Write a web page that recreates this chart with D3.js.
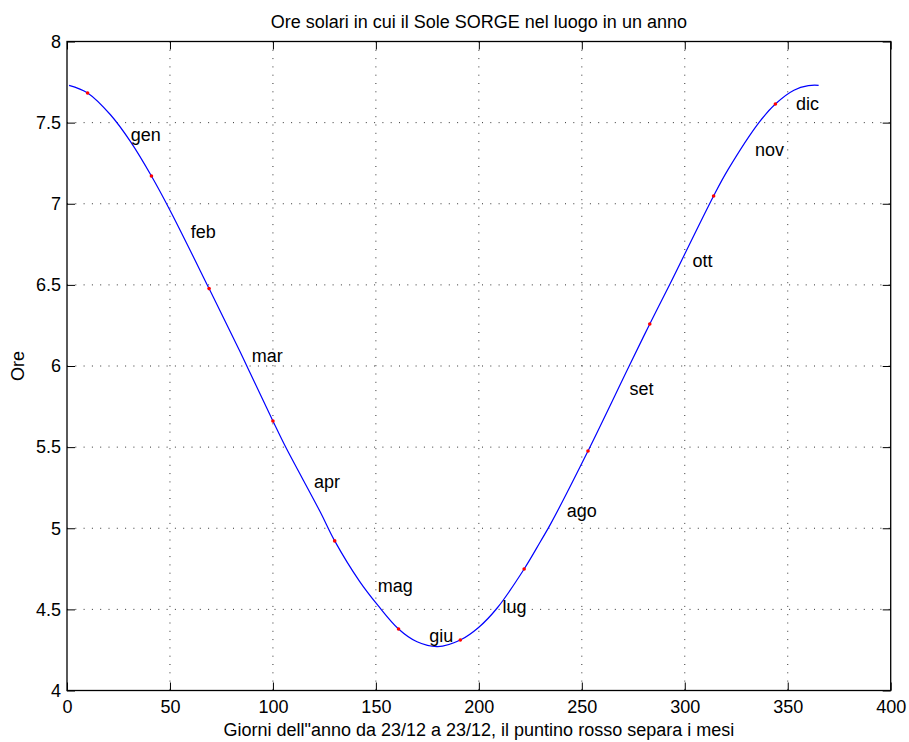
<!DOCTYPE html>
<head>
<meta charset="utf-8">
<script src="https://d3js.org/d3.v7.min.js"></script>

<style>
body {
	margin: 0;
	background: #fff;
}
svg text {
	font-family: "Liberation Sans", Arial, Helvetica, sans-serif;
	font-size: 18px;
	fill: #000;
}
.grid line {
	stroke: #333;
	stroke-width: 1;
	stroke-dasharray: 1,7.3;
}
.axis path {
	display: none;
}
.axis line {
	stroke: #000;
}
.curve {
	fill: none;
	stroke: #0000ff;
	stroke-width: 1.2px;
}
</style>
</head>

<body>
<svg id="chart" width="909" height="742"></svg>

<script>

// curve: day of the year (from 23/12) and solar hour of sunrise
var days  = [1, 10, 21, 31, 41, 50, 69, 84, 89, 100, 106, 123, 130, 142, 151, 161, 170, 180,
	191, 200, 209, 222, 230, 235, 253, 273, 283, 293, 314, 321, 336, 344, 353, 360, 365];
var hours = [7.73, 7.683, 7.55, 7.38, 7.171, 6.96, 6.477, 6.09, 5.955, 5.661, 5.505, 5.10, 4.922, 4.674, 4.524, 4.379, 4.30, 4.27,
	4.311, 4.39, 4.51, 4.749, 4.92, 5.03, 5.476, 6.00, 6.259, 6.51, 7.048, 7.21, 7.50, 7.615, 7.70, 7.728, 7.73];

// red dots: first day of each month
var dotDays  = [10, 41, 69, 100, 130, 161, 191, 222, 253, 283, 314, 344];
var dotHours = [7.683, 7.171, 6.477, 5.661, 4.922, 4.379, 4.311, 4.749, 5.476, 6.259, 7.048, 7.615];

// month names and where they sit
var months      = ["gen", "feb", "mar", "apr", "mag", "giu", "lug", "ago", "set", "ott", "nov", "dic"];
var labelDays   = [30.9, 60.1, 89.7, 119.9, 150.9, 175.9, 211.5, 242.7, 273.1, 303.7, 334.1, 354.0];
var labelHours  = [7.387, 6.787, 6.027, 5.246, 4.605, 4.301, 4.480, 5.071, 5.821, 6.612, 7.294, 7.578];

var xTicks = [0, 50, 100, 150, 200, 250, 300, 350, 400];
var yTicks = [4, 4.5, 5, 5.5, 6, 6.5, 7, 7.5, 8];

var svg = d3.select("#chart"),
	margin = {top: 41.5, right: 18.3, bottom: 51.5, left: 67},
	width = +svg.attr("width") - margin.left - margin.right,
	height = +svg.attr("height") - margin.top - margin.bottom;

var x = d3.scaleLinear()
	.domain([0, 400])
	.range([margin.left, margin.left + width]);

var y = d3.scaleLinear()
	.domain([4, 8])
	.range([margin.top + height, margin.top]);

svg.append("rect")
	.attr("width", 909)
	.attr("height", 742)
	.attr("fill", "#fff");

// dotted grid
var grid = svg.append("g").attr("class", "grid");

grid.selectAll(".vgrid")
	.data(xTicks.slice(1, -1))
	.enter().append("line")
	.attr("x1", d => x(d)).attr("x2", d => x(d))
	.attr("y1", y(8)).attr("y2", y(4));

grid.selectAll(".hgrid")
	.data(yTicks.slice(1, -1))
	.enter().append("line")
	.attr("x1", x(0)).attr("x2", x(400))
	.attr("y1", d => y(d)).attr("y2", d => y(d));

// axes, ticks pointing inwards like matlab
svg.append("g")
	.attr("class", "axis")
	.attr("transform", "translate(0," + y(4) + ")")
	.call(d3.axisBottom(x).tickValues(xTicks).tickSizeInner(-8).tickSizeOuter(0).tickPadding(10));

svg.append("g")
	.attr("class", "axis")
	.attr("transform", "translate(0," + y(8) + ")")
	.call(d3.axisTop(x).tickValues(xTicks).tickSizeInner(-8).tickSizeOuter(0).tickFormat(""));

svg.append("g")
	.attr("class", "axis")
	.attr("transform", "translate(" + x(0) + ",0)")
	.call(d3.axisLeft(y).tickValues(yTicks).tickSizeInner(-8).tickSizeOuter(0).tickPadding(6).tickFormat(d3.format("")));

svg.append("g")
	.attr("class", "axis")
	.attr("transform", "translate(" + x(400) + ",0)")
	.call(d3.axisRight(y).tickValues(yTicks).tickSizeInner(-8).tickSizeOuter(0).tickFormat(""));

svg.selectAll(".axis text")
	.style("font-size", "18px");

svg.append("rect")
	.attr("x", x(0))
	.attr("y", y(8))
	.attr("width", x(400) - x(0))
	.attr("height", y(4) - y(8))
	.attr("fill", "none")
	.attr("stroke", "#000")
	.attr("stroke-width", 1.3);

// the curve
var line = d3.line()
	.curve(d3.curveCatmullRom.alpha(0.5))
	.x((d, i) => x(d))
	.y((d, i) => y(hours[i]));

svg.append("path")
	.attr("class", "curve")
	.attr("d", line(days));

svg.selectAll(".dot")
	.data(dotDays)
	.enter().append("circle")
	.attr("class", "dot")
	.attr("cx", d => x(d))
	.attr("cy", (d, i) => y(dotHours[i]))
	.attr("r", 1.8)
	.attr("fill", "#ff0000");

svg.selectAll(".month")
	.data(months)
	.enter().append("text")
	.attr("class", "month")
	.attr("x", (d, i) => x(labelDays[i]))
	.attr("y", (d, i) => y(labelHours[i]))
	.text(d => d);

// titles
svg.append("text")
	.attr("x", (x(0) + x(400)) / 2)
	.attr("y", 27.5)
	.attr("text-anchor", "middle")
	.text("Ore solari in cui il Sole SORGE nel luogo in un anno");

svg.append("text")
	.attr("x", (x(0) + x(400)) / 2)
	.attr("y", 736)
	.attr("text-anchor", "middle")
	.text("Giorni dell\"anno da 23/12 a 23/12, il puntino rosso separa i mesi");

svg.append("text")
	.attr("transform", "translate(24," + (y(4) + y(8)) / 2 + ") rotate(-90)")
	.attr("text-anchor", "middle")
	.text("Ore");

</script>
</body>
